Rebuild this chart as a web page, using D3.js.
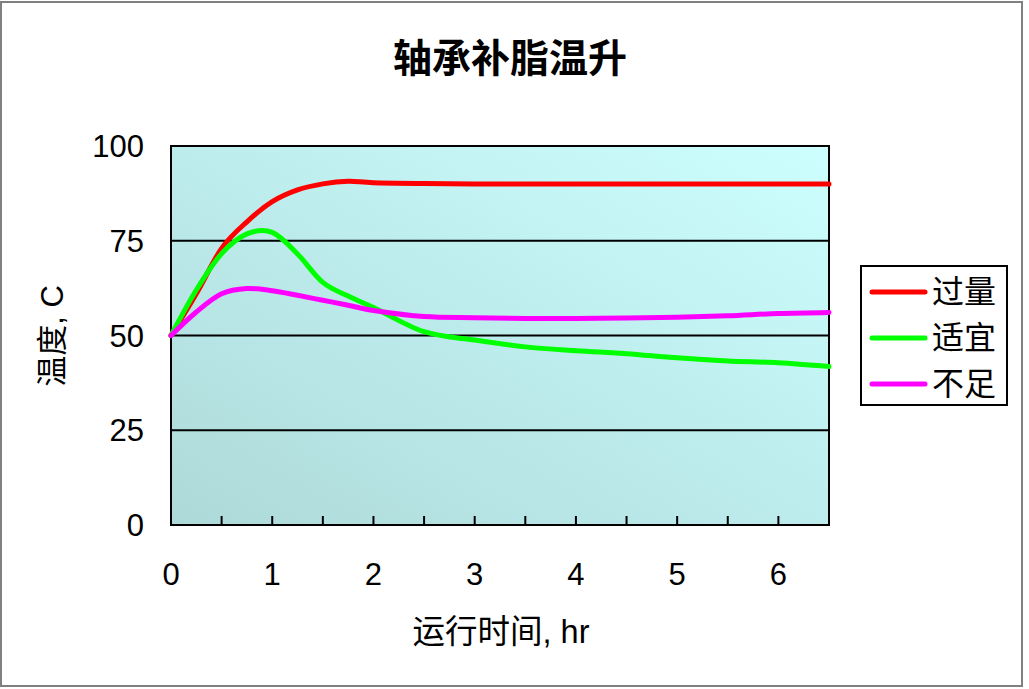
<!DOCTYPE html>
<html>
<head>
<meta charset="utf-8">
<script src="https://cdn.jsdelivr.net/npm/d3@7"></script>
<style>
  body { margin: 0; background: #fff; }
  text { font-family: "Liberation Sans", Arial, "Noto Sans CJK SC", sans-serif; fill: #000; }
</style>
</head>
<body>
<div class="chart"></div>
<script>
// data
var hours = [0, 0.25, 0.5, 0.75, 1, 1.25, 1.5, 1.75, 2, 2.5, 3, 3.5, 4, 4.5, 5, 5.5, 6, 6.5];
var excess = [50, 61, 73, 80, 85.3, 88.4, 90, 90.7, 90.3, 90.1, 90, 90, 90, 90, 90, 90, 90, 90];
var proper = [50, 62, 71.6, 76.8, 77.2, 71.5, 64, 60.4, 57.4, 51, 48.8, 47, 46, 45.2, 44.1, 43.3, 42.8, 41.8];
var lacking = [50, 56.2, 61, 62.4, 61.8, 60.6, 59.3, 58, 56.6, 55, 54.7, 54.5, 54.5, 54.6, 54.8, 55.2, 55.8, 56.1];
var seriesNames = ["过量", "适宜", "不足"];
var seriesColors = ["#ff0000", "#00ff00", "#ff00ff"];
var xTicks = [0, 1, 2, 3, 4, 5, 6];
var xMinorTicks = [0.5, 1, 1.5, 2, 2.5, 3, 3.5, 4, 4.5, 5, 5.5, 6];
var yTicks = [0, 25, 50, 75, 100];

function init() {
    var w = 1029;
    var h = 689;
    var left = 171, right = 829, top = 146, bottom = 525;

    var series = [excess, proper, lacking];

    var svg = d3.select(".chart")
        .append("svg")
        .attr("width", w)
        .attr("height", h);

    // outer frame
    svg.append("rect")
        .attr("x", 1).attr("y", 2)
        .attr("width", 1021).attr("height", 684)
        .style("fill", "#fff")
        .style("stroke", "#808080")
        .style("stroke-width", 2);

    var grad = svg.append("defs").append("linearGradient")
        .attr("id", "bg")
        .attr("x1", 0).attr("y1", 1)
        .attr("x2", 1).attr("y2", 0);
    grad.append("stop").attr("offset", "0%").attr("stop-color", "#aed9d9");
    grad.append("stop").attr("offset", "100%").attr("stop-color", "#cdffff");

    var xScale = d3.scaleLinear().domain([0, 6.5]).range([left, right]);
    var yScale = d3.scaleLinear().domain([0, 100]).range([bottom, top]);

    svg.append("rect")
        .attr("x", left).attr("y", top)
        .attr("width", right - left).attr("height", bottom - top)
        .style("fill", "url(#bg)");

    // gridlines
    svg.selectAll(".grid")
        .data([25, 50, 75])
        .enter()
        .append("line")
        .attr("x1", left).attr("x2", right)
        .attr("y1", function (d) { return yScale(d); })
        .attr("y2", function (d) { return yScale(d); })
        .style("stroke", "#000")
        .style("stroke-width", 2);

    // x ticks, pointing inward
    svg.selectAll(".xtick")
        .data(xMinorTicks)
        .enter()
        .append("line")
        .attr("x1", function (d) { return xScale(d); })
        .attr("x2", function (d) { return xScale(d); })
        .attr("y1", bottom)
        .attr("y2", bottom - 9)
        .style("stroke", "#000")
        .style("stroke-width", 2);

    svg.append("rect")
        .attr("x", left).attr("y", top)
        .attr("width", right - left).attr("height", bottom - top)
        .style("fill", "none")
        .style("stroke", "#000")
        .style("stroke-width", 2);

    // tick labels
    svg.selectAll(".xlabel")
        .data(xTicks)
        .enter()
        .append("text")
        .attr("x", function (d) { return xScale(d); })
        .attr("y", 585)
        .attr("text-anchor", "middle")
        .style("font-size", "31px")
        .text(function (d) { return d; });

    svg.selectAll(".ylabel")
        .data(yTicks)
        .enter()
        .append("text")
        .attr("x", 144)
        .attr("y", function (d) { return yScale(d) + 11; })
        .attr("text-anchor", "end")
        .style("font-size", "31px")
        .text(function (d) { return d; });

    // excel-like smoothing
    var line = d3.line()
        .x(function (d, i) { return xScale(hours[i]); })
        .y(function (d) { return yScale(d); })
        .curve(d3.curveCatmullRom.alpha(0));

    svg.selectAll(".series")
        .data(series)
        .enter()
        .append("path")
        .attr("d", line)
        .style("fill", "none")
        .style("stroke", function (d, i) { return seriesColors[i]; })
        .style("stroke-width", 5)
        .style("stroke-linecap", "round")
        .style("stroke-linejoin", "round");

    // title and axis titles
    svg.append("text")
        .attr("x", 510)
        .attr("y", 72)
        .attr("text-anchor", "middle")
        .style("font-family", "'Noto Sans CJK SC'")
        .style("font-weight", "bold")
        .style("font-size", "39px")
        .text("轴承补脂温升");

    svg.append("text")
        .attr("x", 501)
        .attr("y", 643)
        .attr("text-anchor", "middle")
        .style("font-size", "32.5px")
        .text("运行时间, hr");

    svg.append("text")
        .attr("transform", "translate(63,336) rotate(-90)")
        .attr("text-anchor", "middle")
        .style("font-size", "31px")
        .text("温度, C");

    // legend
    var legend = svg.append("g");
    legend.append("rect")
        .attr("x", 861).attr("y", 266)
        .attr("width", 146).attr("height", 139)
        .style("fill", "#fff")
        .style("stroke", "#000")
        .style("stroke-width", 2);

    var legendY = d3.scalePoint().domain(seriesNames).range([292, 384]);

    legend.selectAll(".lline")
        .data(seriesNames)
        .enter()
        .append("line")
        .attr("x1", 872).attr("x2", 925)
        .attr("y1", function (d) { return legendY(d); })
        .attr("y2", function (d) { return legendY(d); })
        .style("stroke", function (d, i) { return seriesColors[i]; })
        .style("stroke-width", 5)
        .style("stroke-linecap", "round");

    legend.selectAll(".ltext")
        .data(seriesNames)
        .enter()
        .append("text")
        .attr("x", 932)
        .attr("y", function (d) { return legendY(d) + 11; })
        .style("font-size", "32px")
        .text(function (d) { return d; });
}

init();
</script>
</body>
</html>
